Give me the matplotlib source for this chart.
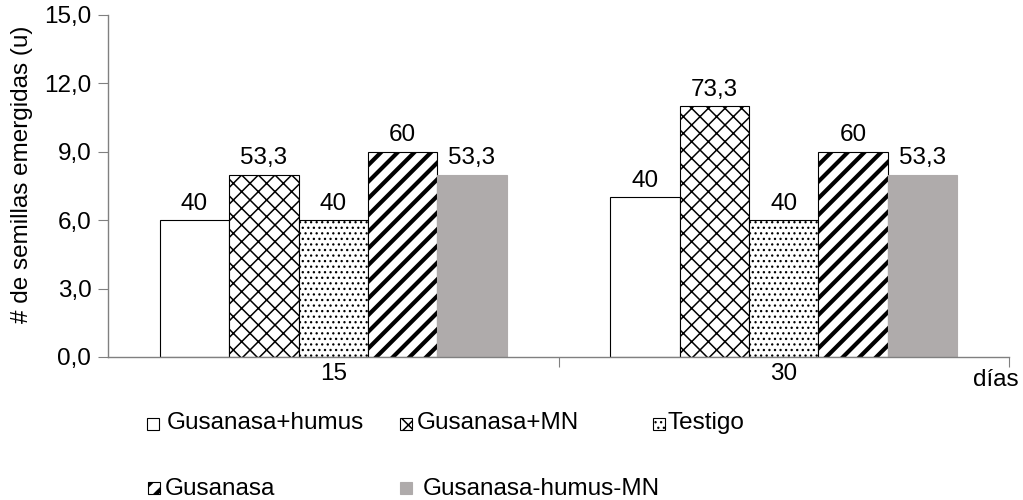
#!/usr/bin/env python3
"""Emerged seeds per treatment at 15 and 30 days."""
import matplotlib
matplotlib.use("Agg")
import matplotlib.pyplot as plt
import numpy as np
from matplotlib.patches import Rectangle

plt.rcParams["font.family"] = ["Liberation Sans", "DejaVu Sans"]

days = ["15", "30"]
treatments = ["Gusanasa+humus", "Gusanasa+MN", "Testigo", "Gusanasa", "Gusanasa-humus-MN"]
gusanasa_humus = [6.0, 7.0]
gusanasa_mn = [8.0, 11.0]
testigo = [6.0, 6.0]
gusanasa = [9.0, 9.0]
gusanasa_humus_mn = [8.0, 8.0]
pct_gusanasa_humus = ["40", "40"]
pct_gusanasa_mn = ["53,3", "73,3"]
pct_testigo = ["40", "40"]
pct_gusanasa = ["60", "60"]
pct_gusanasa_humus_mn = ["53,3", "53,3"]
yticks = [0, 3, 6, 9, 12, 15]

series = [gusanasa_humus, gusanasa_mn, testigo, gusanasa, gusanasa_humus_mn]
pct_labels = [pct_gusanasa_humus, pct_gusanasa_mn, pct_testigo, pct_gusanasa, pct_gusanasa_humus_mn]
styles = [
    dict(facecolor="white", edgecolor="black", hatch=None, hlw=1.0),
    dict(facecolor="white", edgecolor="black", hatch="xx", hlw=1.1),
    dict(facecolor="white", edgecolor="black", hatch="...", hlw=0.9),
    dict(facecolor="white", edgecolor="black", hatch="//", hlw=3.0),
    dict(facecolor="#afabab", edgecolor="#afabab", hatch=None, hlw=1.0),
]

FS = 17.5
fig = plt.figure(figsize=(10.23, 5.0), dpi=100)
ax = fig.add_axes([108 / 1023, 1 - 357 / 500, 901 / 1023, 342 / 500])

x = np.arange(len(days))
width = 0.154
for i, (vals, labs, st) in enumerate(zip(series, pct_labels, styles)):
    offs = (i - 2) * width
    bars = ax.bar(x + offs, vals, width, facecolor=st["facecolor"],
                  edgecolor=st["edgecolor"], linewidth=0.8, hatch=st["hatch"])
    for b in bars:
        if hasattr(b, "set_hatch_linewidth"):
            b.set_hatch_linewidth(st["hlw"])
    ax.bar_label(bars, labels=labs, padding=4, fontsize=FS)

ax.set_xlim(-0.5, 1.5)
ax.set_ylim(0, 15)
ax.set_yticks(yticks)
ax.set_yticklabels([f"{v:.1f}".replace(".", ",") for v in yticks], fontsize=FS)

# category boundaries carry the ticks, the labels sit between them
ax.set_xticks([0.5, 1.5])
ax.set_xticklabels(["", ""])
ax.set_xticks(x, minor=True)
ax.set_xticklabels(days, minor=True, fontsize=FS)
ax.tick_params(axis="x", which="major", length=7, color="#808080", direction="out")
ax.tick_params(axis="x", which="minor", length=0, pad=4)
ax.tick_params(axis="y", length=7, color="#808080", direction="out", pad=5)

for side in ("top", "right"):
    ax.spines[side].set_visible(False)
for side in ("left", "bottom"):
    ax.spines[side].set_color("#808080")
    ax.spines[side].set_linewidth(1.0)

ax.set_ylabel("# de semillas emergidas (u)", fontsize=FS)
ax.yaxis.set_label_coords(-0.083, 0.535)
fig.text(973 / 1023, 1 - 386 / 500, "días", fontsize=FS, ha="left", va="baseline")

# legend drawn by hand in two rows
legend_pos = [
    (147, 430, 167, 429),
    (400, 430, 417, 429),
    (653, 430, 668, 429),
    (148, 494, 165, 495),
    (400, 494, 423, 495),
]
for name, st, (mx, my, tx, ty) in zip(treatments, styles, legend_pos):
    r = Rectangle((mx / 1023, 1 - my / 500), 12 / 1023, 12 / 500,
                  transform=fig.transFigure, facecolor=st["facecolor"],
                  edgecolor=st["edgecolor"], linewidth=0.8, hatch=st["hatch"])
    if hasattr(r, "set_hatch_linewidth"):
        r.set_hatch_linewidth(st["hlw"])
    fig.add_artist(r)
    fig.text(tx / 1023, 1 - ty / 500, name, fontsize=FS, ha="left", va="baseline")

fig.savefig("out.png", dpi=100)
